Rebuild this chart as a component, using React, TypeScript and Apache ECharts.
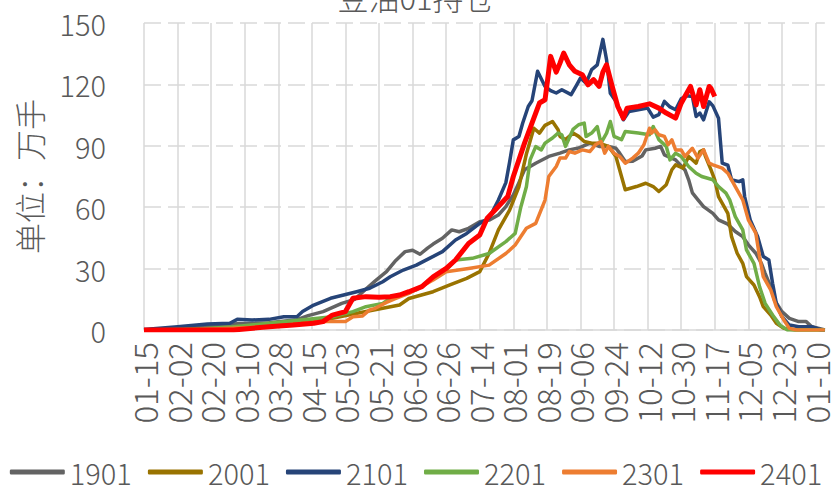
import React, { useEffect, useRef } from "react";
import * as echarts from "echarts";

// Category axis: daily dates from 01-15 to 01-15 of the following year
const START_DATE = Date.UTC(2019, 0, 15);
const DAY_COUNT = 366;
const categories: string[] = Array.from({ length: DAY_COUNT }, (_, i) => {
  const d = new Date(START_DATE + i * 86400000);
  const mm = String(d.getUTCMonth() + 1).padStart(2, "0");
  const dd = String(d.getUTCDate()).padStart(2, "0");
  return `${mm}-${dd}`;
});

const yTicks = { min: 0, max: 150, interval: 30 };
const seriesNames = ["1901", "2001", "2101", "2201", "2301", "2401"];

// [days since 01-15, open interest (10k lots)]
const s1901: [number, number][] = [
  [0, 0], [18, 1], [34, 2], [50, 3], [67, 3.5], [82, 5], [88, 7], [96, 9], [106, 13], [113, 15],
  [119, 20], [124, 24], [130, 28.5], [135, 34], [140, 38.3], [144, 39], [148, 37], [152, 40], [155, 42],
  [160, 44.8], [165, 48.9], [169, 48], [174, 49.7], [180, 52.9], [185, 53.7], [190, 56.2], [194, 60.3],
  [198, 66], [201, 72], [204, 78.3], [210, 81.5], [217, 84.8], [223, 86.4], [228, 88], [233, 88.9],
  [239, 91.3], [244, 89.7], [249, 89.7], [253, 88.8], [255, 86.4], [258, 82.3], [262, 82.5], [267, 85],
  [269, 88], [274, 88.8], [277, 89.7], [279, 85.6], [285, 83.1], [290, 78.2], [292, 73.4], [294, 67],
  [297, 63.6], [300, 60.3], [305, 57], [308, 53.8], [313, 51.7], [317, 48.1], [321, 45.6], [324, 41.6],
  [328, 37.5], [331, 32.6], [333, 27.7], [336, 21.2], [338, 14.7], [342, 9], [346, 5.7], [351, 4.1],
  [355, 4.1], [358, 1.6], [363, 0.5], [365, 0],
];
const s2001: [number, number][] = [
  [0, 0], [30, 0.5], [60, 1.5], [83, 3.3], [101, 5.7], [119, 9], [128, 10.6], [137, 12.2], [142, 15.4],
  [155, 18.7], [164, 22], [173, 25.2], [180, 28.5], [185, 37.4], [190, 48.9], [196, 58.6], [201, 70],
  [205, 86], [209, 98.6], [212, 96.2], [215, 100], [219, 101.9], [222, 97.8], [223, 94.6], [226, 93],
  [230, 96.2], [233, 94.6], [236, 92.1], [240, 91.3], [244, 91.3], [249, 89.7], [253, 84.8], [256, 75],
  [258, 68.5], [264, 70.1], [269, 71.7], [273, 70.1], [276, 67.7], [280, 71], [283, 78.3], [285, 80.7],
  [289, 79.1], [292, 84.8], [296, 81.5], [298, 87.2], [300, 88], [301, 84.8], [304, 78.2], [306, 73.4],
  [308, 65.2], [311, 60.3], [313, 57], [315, 45.6], [318, 37.5], [321, 32.6], [323, 26.1], [327, 22],
  [330, 16.3], [332, 11.4], [336, 7.3], [339, 3.3], [343, 0.8], [349, 0], [365, 0],
];
const s2101: [number, number][] = [
  [0, 0.3], [18, 1.6], [34, 2.9], [46, 3.3], [50, 5.2], [58, 4.9], [67, 5.2], [75, 6.5], [82, 6.5],
  [85, 9], [91, 12.2], [100, 15.5], [107, 17.1], [114, 18.7], [121, 20.4], [128, 23.6], [132, 26],
  [139, 29.3], [146, 31.7], [153, 35], [160, 38.3], [167, 44], [173, 47.2], [180, 52.1], [185, 54.6],
  [190, 63.5], [194, 72], [196, 82], [198, 92.9], [201, 94.5], [203, 101], [206, 109.2], [208, 112],
  [211, 126.4], [215, 119], [218, 117], [221, 115.8], [224, 117.4], [229, 115], [232, 119.8],
  [234, 123.1], [237, 120.6], [240, 127.2], [243, 129.5], [246, 142], [248, 132], [250, 115.7],
  [253, 111.7], [257, 102.7], [260, 106.8], [265, 107.6], [270, 108.4], [273, 104], [276, 105.2],
  [279, 111.7], [282, 109], [285, 107.6], [288, 113], [291, 114.5], [294, 114.1], [296, 104.3],
  [298, 106], [300, 102.7], [303, 111.5], [305, 109.5], [308, 103.5], [310, 81.5], [313, 80.5],
  [315, 73.4], [319, 72.5], [321, 73.4], [322, 65.2], [325, 53.8], [329, 45.6], [332, 35.9], [335, 34.2],
  [337, 22.8], [339, 13], [342, 6.5], [346, 2.4], [351, 1.6], [358, 1.6], [363, 0], [365, 0],
];
const s2201: [number, number][] = [
  [0, 0], [30, 0.5], [48, 1.6], [84, 4.9], [101, 6.5], [112, 9], [119, 11.4], [128, 13], [132, 15.5],
  [140, 18], [146, 19.6], [155, 25.2], [162, 29.3], [167, 34.2], [176, 35], [185, 37.4], [194, 43.2],
  [199, 47.2], [202, 60], [205, 70], [207, 83.1], [210, 89.6], [213, 88], [215, 91.3], [219, 93.8],
  [222, 96.2], [224, 95.4], [226, 89.7], [230, 98], [233, 100.3], [236, 101.1], [237, 94.6], [240, 96.2],
  [243, 99.4], [245, 91.3], [248, 96.2], [250, 101.9], [252, 94.6], [256, 93], [258, 97], [265, 96.2],
  [271, 95.4], [273, 99.4], [276, 93], [280, 89.7], [282, 83.1], [285, 86.4], [288, 84.8], [292, 79.9],
  [296, 76.6], [299, 75], [305, 73.4], [308, 70.1], [312, 66.9], [314, 63.6], [317, 55.4], [321, 48.9],
  [323, 39.1], [327, 32.6], [330, 21.2], [333, 13], [337, 7.3], [341, 2.4], [345, 0], [365, 0],
];
const s2301: [number, number][] = [
  [0, 0], [30, 0.3], [67, 1.6], [96, 4.1], [108, 4.1], [112, 6.5], [117, 6.8], [121, 9.8], [124, 10.6],
  [130, 13.5], [135, 15.4], [142, 17.9], [155, 24.4], [162, 28.5], [174, 30.1], [185, 31.7], [194, 37.4],
  [199, 41.5], [205, 49.7], [210, 52.1], [215, 63.5], [217, 75], [221, 79.9], [223, 84], [226, 84],
  [228, 87.2], [231, 86.4], [235, 88], [239, 87.2], [242, 90.5], [245, 92.1], [247, 86.4], [249, 89.7],
  [252, 86.4], [255, 84.8], [258, 81.5], [262, 84], [265, 86.4], [268, 90.5], [271, 98.6], [272, 96.2],
  [274, 97.8], [276, 95.4], [279, 94.6], [281, 90.5], [283, 92.9], [285, 88], [288, 88], [290, 84.8],
  [294, 88.8], [297, 84], [300, 88], [303, 81.5], [305, 80.7], [310, 79.1], [313, 76.6], [317, 70.1],
  [321, 63.6], [324, 53.8], [328, 47.3], [330, 35.9], [332, 26.1], [336, 19.6], [339, 11.4], [343, 4.9],
  [346, 0.8], [350, 0], [365, 0],
];
const s2401: [number, number][] = [
  [0, 0], [48, 0], [67, 1.6], [80, 2.4], [91, 3.3], [96, 4.1], [101, 7.3], [108, 9], [112, 15.5],
  [119, 16.3], [126, 16], [132, 16.3], [137, 17.1], [142, 18.7], [149, 21.2], [155, 26], [162, 30.1],
  [167, 34.2], [174, 42.3], [180, 46.4], [184, 54.6], [190, 60.3], [195, 65.2], [198, 75], [204, 91.3],
  [208, 101.1], [212, 110.9], [215, 112.5], [218, 133.7], [221, 126], [223, 130.4], [225, 135.3],
  [228, 129.6], [231, 126.4], [235, 124.7], [238, 119.8], [241, 122.3], [244, 119], [246, 126],
  [248, 129.6], [251, 119], [254, 109.2], [257, 103.5], [259, 108.4], [265, 109.2], [271, 110.5],
  [276, 108.4], [280, 106], [285, 103.5], [288, 110.8], [290, 114.1], [293, 119], [296, 110],
  [298, 117.4], [300, 109.2], [303, 119], [304, 118], [306, 114.1],
];

const seriesData = [s1901, s2001, s2101, s2201, s2301, s2401];
const seriesColors = ["#636363", "#997300", "#264478", "#70AD47", "#ED7D31", "#FF0000"];
const seriesWidths = [3.5, 3.5, 3.5, 3.5, 3.5, 5];

const FONT = "'Noto Sans CJK SC', 'Noto Sans', sans-serif";
const TEXT = "#595959";
const GRID = "#d9d9d9";
const WEIGHT = 300;

export default function App() {
  const ref = useRef<HTMLDivElement>(null);
  useEffect(() => {
    document.body.style.margin = "0";
    if (!ref.current) return;
    const chart = echarts.init(ref.current, undefined, { renderer: "svg" });
    chart.setOption({
      animation: false,
      backgroundColor: "#ffffff",
      textStyle: { fontFamily: FONT, fontWeight: WEIGHT },
      title: {
        text: "豆油01持仓",
        left: "center",
        top: -24,
        textStyle: { fontFamily: FONT, fontSize: 31, fontWeight: WEIGHT, color: TEXT },
      },
      legend: {
        data: seriesNames,
        left: "center",
        top: 457,
        padding: 0,
        icon: "roundRect",
        itemWidth: 55,
        itemHeight: 5,
        itemGap: 16,
        textStyle: {
          fontFamily: FONT,
          fontSize: 29,
          lineHeight: 30,
          fontWeight: WEIGHT,
          color: TEXT,
        },
      },
      grid: { left: 144, right: 6, top: 23, bottom: 160, containLabel: false },
      xAxis: {
        type: "category",
        data: categories,
        boundaryGap: false,
        axisLine: { show: true, lineStyle: { color: GRID, width: 1.5 } },
        axisTick: { show: false },
        axisLabel: {
          interval: 17,
          rotate: 90,
          margin: 12,
          fontFamily: FONT,
          fontWeight: WEIGHT,
          fontSize: 33,
          lineHeight: 30,
          showMinLabel: true,
          color: TEXT,
        },
        splitLine: { show: true, interval: 17, lineStyle: { color: GRID, width: 1.5 } },
      },
      yAxis: {
        type: "value",
        min: yTicks.min,
        max: yTicks.max,
        interval: yTicks.interval,
        name: "单位：万手",
        nameLocation: "middle",
        nameGap: 100,
        nameRotate: 90,
        nameTextStyle: { fontFamily: FONT, fontWeight: WEIGHT, fontSize: 31, color: TEXT },
        axisLine: { show: false },
        axisTick: { show: false },
        axisLabel: { margin: 38, fontFamily: FONT, fontWeight: WEIGHT, fontSize: 29, color: TEXT },
        splitLine: { show: true, lineStyle: { color: GRID, width: 1.5, type: [17, 7] } },
      },
      series: seriesNames.map((name, i) => ({
        name,
        type: "line",
        data: seriesData[i],
        showSymbol: false,
        symbol: "none",
        color: seriesColors[i],
        lineStyle: { color: seriesColors[i], width: seriesWidths[i], join: "round" },
        z: 2 + i,
      })),
    });
    return () => chart.dispose();
  }, []);
  return <div ref={ref} style={{ width: 832, height: 490 }} />;
}
